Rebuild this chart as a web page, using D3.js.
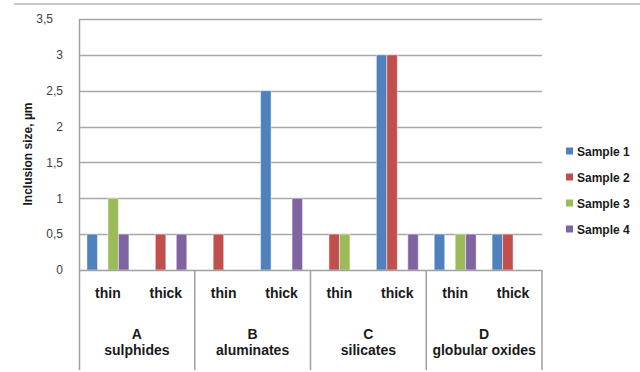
<!DOCTYPE html>
<html>
<head>
<meta charset="utf-8">
<script src="https://cdn.jsdelivr.net/npm/d3@7"></script>
<style>
  html, body { margin: 0; padding: 0; background: #fff; }
  svg { display: block; font-family: "Liberation Sans", Arial, sans-serif; }
</style>
</head>
<body>
<svg id="chart" width="640" height="372"></svg>
<script>
// Inclusion groups and their two sub-categories
const groupLetters = ["A", "B", "C", "D"];
const groupNames = ["sulphides", "aluminates", "silicates", "globular oxides"];
const subCategories = ["thin", "thick"];
const seriesNames = ["Sample 1", "Sample 2", "Sample 3", "Sample 4"];
const seriesColors = ["#4F81BD", "#C0504D", "#9BBB59", "#8064A2"];

// Values per series, in order A-thin, A-thick, B-thin, B-thick, C-thin, C-thick, D-thin, D-thick
const sample1 = [0.5, 0, 0, 2.5, 0, 3, 0.5, 0.5];
const sample2 = [0, 0.5, 0.5, 0, 0.5, 3, 0, 0.5];
const sample3 = [1, 0, 0, 0, 0.5, 0, 0.5, 0];
const sample4 = [0.5, 0.5, 0, 1, 0, 0.5, 0.5, 0];

const yTicks = [0, 0.5, 1, 1.5, 2, 2.5, 3, 3.5];
const yTitle = "Inclusion size, µm";

const seriesValues = [sample1, sample2, sample3, sample4];

const svg = d3.select("#chart");
const plot = { left: 79, right: 542, top: 19, bottom: 270, footer: 370 };

const y = d3.scaleLinear().domain([0, 3.5]).range([plot.bottom, plot.top]);
const xGroup = d3.scaleBand().domain(groupLetters).range([plot.left, plot.right]);
const xSub = d3.scaleBand().domain(subCategories).range([0, xGroup.bandwidth()]);
const xSeries = d3.scaleBand().domain(seriesNames).range([0, xSub.bandwidth()])
  .paddingInner(0).paddingOuter(0.76);

const fmt = v => String(v).replace(".", ",");

// Frame line across the top
svg.append("line")
  .attr("x1", 14).attr("x2", 640).attr("y1", 4).attr("y2", 4)
  .attr("stroke", "#b4b4b4").attr("stroke-width", 1.5);

// Horizontal gridlines
svg.append("g")
  .selectAll("line")
  .data(yTicks.filter(t => t > 0))
  .join("line")
  .attr("x1", plot.left).attr("x2", plot.right)
  .attr("y1", d => Math.round(y(d)) + 0.5).attr("y2", d => Math.round(y(d)) + 0.5)
  .attr("stroke", "#a8a8a8").attr("stroke-width", 1.5);

// Y axis with comma decimals; the top label sits a little further left
const yAxis = d3.axisLeft(y).tickValues(yTicks).tickFormat(fmt).tickSize(0).tickPadding(16);
const gy = svg.append("g").attr("transform", `translate(${plot.left},0)`).call(yAxis);
gy.select(".domain").remove();
gy.selectAll("text").attr("font-size", 12).attr("fill", "#404040")
  .attr("font-family", "'Liberation Sans', Arial, sans-serif");
gy.selectAll(".tick").filter(d => d === 3.5).select("text").attr("dx", -10);

// Bars
const rows = [];
groupLetters.forEach((g, gi) => {
  subCategories.forEach((s, si) => {
    seriesNames.forEach((name, k) => {
      rows.push({ group: g, sub: s, series: name, color: seriesColors[k],
                  value: seriesValues[k][gi * 2 + si] });
    });
  });
});

svg.append("g")
  .selectAll("rect")
  .data(rows.filter(d => d.value > 0))
  .join("rect")
  .attr("x", d => xGroup(d.group) + xSub(d.sub) + xSeries(d.series))
  .attr("width", xSeries.bandwidth())
  .attr("y", d => y(d.value))
  .attr("height", d => y(0) - y(d.value))
  .attr("fill", d => d.color)
  .attr("stroke", "rgba(255,255,255,0.45)").attr("stroke-width", 1);

// Axis lines: left axis down through the category box, baseline and group separators
const axisColor = "#a0a0a0";
svg.append("line")
  .attr("x1", plot.left + 0.5).attr("x2", plot.left + 0.5)
  .attr("y1", plot.top).attr("y2", plot.footer)
  .attr("stroke", axisColor).attr("stroke-width", 1.5);
svg.append("line")
  .attr("x1", plot.left).attr("x2", plot.right)
  .attr("y1", y(0) + 0.5).attr("y2", y(0) + 0.5)
  .attr("stroke", axisColor).attr("stroke-width", 1.5);
svg.append("g")
  .selectAll("line")
  .data(groupLetters.slice(1).map(g => xGroup(g)).concat([plot.right]))
  .join("line")
  .attr("x1", d => d).attr("x2", d => d)
  .attr("y1", plot.bottom).attr("y2", plot.footer)
  .attr("stroke", axisColor).attr("stroke-width", 1.5);

// Sub-category labels
const subLabels = [];
groupLetters.forEach(g => subCategories.forEach(s => subLabels.push({ g, s })));
svg.append("g")
  .selectAll("text")
  .data(subLabels)
  .join("text")
  .attr("x", d => xGroup(d.g) + xSub(d.s) + xSub.bandwidth() / 2)
  .attr("y", 298)
  .attr("text-anchor", "middle")
  .attr("font-size", 14).attr("font-weight", "bold").attr("fill", "#1a1a1a")
  .text(d => d.s);

// Group labels (letter + name)
const gl = svg.append("g")
  .selectAll("text")
  .data(groupLetters.map((g, i) => ({ g, name: groupNames[i] })))
  .join("text")
  .attr("text-anchor", "middle")
  .attr("font-size", 14).attr("font-weight", "bold").attr("fill", "#1a1a1a");
gl.append("tspan")
  .attr("x", d => xGroup(d.g) + xGroup.bandwidth() / 2).attr("y", 339)
  .text(d => d.g);
gl.append("tspan")
  .attr("x", d => xGroup(d.g) + xGroup.bandwidth() / 2).attr("y", 355)
  .text(d => d.name);

// Y axis title
svg.append("text")
  .attr("transform", "translate(32,154) rotate(-90)")
  .attr("text-anchor", "middle")
  .attr("font-size", 12).attr("font-weight", "bold").attr("fill", "#1a1a1a")
  .text(yTitle);

// Legend
const legendY = d3.scalePoint().domain(seriesNames).range([151, 229]);
const lg = svg.append("g")
  .selectAll("g")
  .data(seriesNames)
  .join("g")
  .attr("transform", d => `translate(566,${legendY(d)})`);
lg.append("rect")
  .attr("x", 0).attr("y", -3.5).attr("width", 7).attr("height", 7)
  .attr("fill", (d, i) => seriesColors[i]);
lg.append("text")
  .attr("x", 11).attr("y", 4.5)
  .attr("font-size", 12).attr("font-weight", "bold").attr("fill", "#1a1a1a")
  .text(d => d);
</script>
</body>
</html>
